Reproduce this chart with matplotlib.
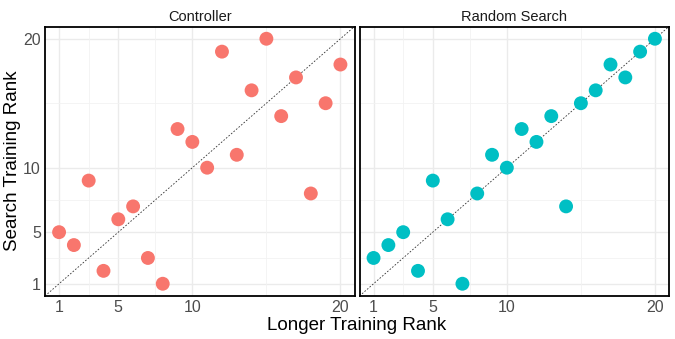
import numpy as np
import matplotlib
matplotlib.use('Agg')
import matplotlib.pyplot as plt

# ranks
longer_rank = list(range(1, 21))
controller_rank = [5, 4, 9, 2, 6, 7, 3, 1, 13, 12, 10, 19, 11, 16, 20, 14, 17, 8, 15, 18]
random_rank = [3, 4, 5, 2, 9, 6, 1, 8, 11, 10, 13, 12, 14, 7, 15, 16, 18, 17, 19, 20]

panels = ['Controller', 'Random Search']
colors = ['#F8766D', '#00BFC4']
major = [1, 5, 10, 20]
minor = [3, 7.5, 15]

plt.rcParams['font.family'] = ['Liberation Sans', 'DejaVu Sans']

W, H = 675, 339
fig = plt.figure(figsize=(W / 100, H / 100), dpi=100)


def box(l, t, r, b):
    return [l / W, 1 - b / H, (r - l) / W, (b - t) / H]


axes = [fig.add_axes(box(45, 26.5, 354.5, 296)),
        fig.add_axes(box(359.5, 26.5, 669, 296))]

lo, hi = 1 - 0.95, 20 + 0.95
for i, ax in enumerate(axes):
    ys = controller_rank if i == 0 else random_rank
    ax.set_xlim(lo, hi)
    ax.set_ylim(lo, hi)
    for v in major:
        ax.axhline(v, color='#EBEBEB', lw=1.0, zorder=0)
        ax.axvline(v, color='#EBEBEB', lw=1.0, zorder=0)
    for v in minor:
        ax.axhline(v, color='#F2F2F2', lw=0.6, zorder=0)
        ax.axvline(v, color='#F2F2F2', lw=0.6, zorder=0)
    ax.plot([lo, hi], [lo, hi], ls=(0, (2, 2)), color='#333333', lw=0.6, zorder=1)
    ax.scatter(longer_rank, ys, s=100, color=colors[i], edgecolors='none', zorder=2)
    ax.set_xticks(major)
    ax.set_yticks(major)
    ax.tick_params(length=0, labelsize=11.5, labelcolor='#4D4D4D', pad=3)
    if i == 1:
        ax.set_yticklabels([])
    for sp in ax.spines.values():
        sp.set_linewidth(1.3)
        sp.set_color('black')
    ax.set_title(panels[i], fontsize=10.5, color='#1A1A1A', pad=4)

fig.text(357 / W, 1 - 325 / H, 'Longer Training Rank', ha='center',
         va='center', fontsize=13.5)
fig.text(13 / W, 1 - 161 / H, 'Search Training Rank', ha='center', va='center',
         rotation=90, fontsize=13.5)

fig.savefig('out.png', dpi=100)
